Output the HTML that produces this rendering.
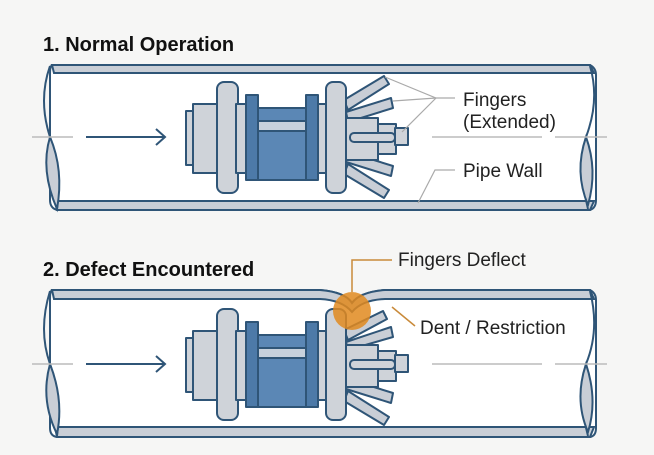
<!DOCTYPE html>
<html><head><meta charset="utf-8"><style>
html,body{margin:0;padding:0;background:#f6f6f5;}
svg{display:block;font-family:"Liberation Sans",sans-serif;}
</style></head><body>
<svg width="654" height="455" viewBox="0 0 654 455" xmlns="http://www.w3.org/2000/svg">
<defs>
<g id="body" stroke="#2f5577" stroke-width="2" stroke-linejoin="round">
  <g fill="#c9ced6">
    <polygon points="346,162 391,176 393,166 348,152"/>
    <polygon points="344,174 384,198 389,190 348,164"/>
  </g>
  <rect x="346" y="118" width="32" height="42" fill="#cfd3d9"/>
  <rect x="378" y="124" width="18" height="30" fill="#cfd3d9"/>
  <rect x="350" y="133" width="45" height="9" rx="4" fill="#cfd3d9"/>
  <rect x="395" y="128" width="13" height="17" fill="#cfd3d9"/>
  <rect x="186" y="111" width="10" height="54" fill="#cfd3d9"/>
  <rect x="193" y="104" width="28" height="69" fill="#cfd3d9"/>
  <rect x="217" y="82" width="21" height="111" rx="7" fill="#cfd3d9"/>
  <rect x="236" y="104" width="12" height="69" fill="#cfd3d9"/>
  <rect x="258" y="108" width="48" height="72" fill="#5b87b5"/>
  <rect x="258" y="121" width="48" height="10" fill="#c7d1dc"/>
  <rect x="246" y="95" width="12" height="85" fill="#4d7aa8"/>
  <rect x="306" y="95" width="12" height="85" fill="#4d7aa8"/>
  <rect x="318" y="104" width="10" height="69" fill="#cfd3d9"/>
  <rect x="326" y="82" width="20" height="111" rx="7" fill="#cfd3d9"/>
</g>
</defs>

<text x="43" y="51" font-size="20" font-weight="bold" fill="#111">1. Normal Operation</text>
<text x="43" y="276" font-size="20" font-weight="bold" fill="#111">2. Defect Encountered</text>

<!-- Pipe 1 -->
<g stroke="#2f5577" stroke-width="2">
  <path d="M52,65 L590,65 Q596,68 596,75 L596,200 Q596,208 590,210 L57,210 Q50,208 50,200 L50,75 Q50,66 52,65Z" fill="#fff"/>
  <path d="M52,65 L590,65 L594,73 L54,73Z" fill="#c9ced6"/>
  <path d="M55,201 L594,201 L590,210 L57,210Z" fill="#c9ced6"/>
  <path d="M50,66 Q38,100 50,137 Q62,170 57,209" fill="none"/>
  <path d="M50,137 Q40,170 57,209 Q64,170 50,137Z" fill="#c9ced6"/>
  <path d="M590,66 Q600,100 586,137 Q578,170 588,209" fill="none"/>
  <path d="M586,137 Q574,172 588,205 Q598,170 586,137Z" fill="#c9ced6"/>
</g>
<line x1="32" y1="137" x2="73" y2="137" stroke="#bbb" stroke-width="1.5"/>
<line x1="432" y1="137" x2="542" y2="137" stroke="#bbb" stroke-width="1.5"/>
<line x1="555" y1="137" x2="607" y2="137" stroke="#bbb" stroke-width="1.5"/>
<g stroke="#2f5577" stroke-width="2" fill="none">
  <line x1="86" y1="137" x2="165" y2="137"/>
  <polyline points="156,129 165,137 156,145"/>
</g>
<g stroke="#2f5577" stroke-width="2" stroke-linejoin="round" fill="#c9ced6">
  <polygon points="344,100 384,76 389,84 348,110"/>
  <polygon points="346,112 391,98 393,108 348,122"/>
</g>
<use href="#body"/>
<g stroke="#aaa" stroke-width="1.2" fill="none">
  <polyline points="385,77 436,98 455,98"/>
  <line x1="393" y1="101" x2="436" y2="98"/>
  <line x1="402" y1="132" x2="436" y2="98"/>
  <polyline points="418,203 435,170 455,170"/>
</g>
<text x="463" y="106" font-size="19" fill="#222">Fingers</text>
<text x="463" y="128" font-size="19" fill="#222">(Extended)</text>
<text x="463" y="177" font-size="19" fill="#222">Pipe Wall</text>

<!-- Pipe 2 -->
<g stroke="#2f5577" stroke-width="2">
  <path d="M52,290 L320,290 Q345,292 352,303 Q360,292 385,290 L590,290 Q596,293 596,300 L596,428 Q596,436 590,437 L57,437 Q50,436 50,428 L50,300 Q50,291 52,290Z" fill="#fff"/>
  <path d="M52,290 L320,290 Q345,292 352,303 Q360,292 385,290 L590,290 L594,299 L385,299 Q362,300 352,312 Q342,300 320,299 L54,299Z" fill="#c9ced6"/>
  <path d="M55,427 L594,427 L590,437 L57,437Z" fill="#c9ced6"/>
  <path d="M50,291 Q38,330 50,364 Q62,400 57,436" fill="none"/>
  <path d="M50,364 Q40,400 57,434 Q64,400 50,364Z" fill="#c9ced6"/>
  <path d="M590,291 Q600,330 586,364 Q578,400 588,436" fill="none"/>
  <path d="M586,364 Q574,400 588,432 Q598,400 586,364Z" fill="#c9ced6"/>
</g>
<line x1="32" y1="364" x2="73" y2="364" stroke="#bbb" stroke-width="1.5"/>
<line x1="432" y1="364" x2="542" y2="364" stroke="#bbb" stroke-width="1.5"/>
<line x1="555" y1="364" x2="607" y2="364" stroke="#bbb" stroke-width="1.5"/>
<g stroke="#2f5577" stroke-width="2" fill="none">
  <line x1="86" y1="364" x2="165" y2="364"/>
  <polyline points="156,356 165,364 156,372"/>
</g>
<g stroke="#2f5577" stroke-width="2" stroke-linejoin="round" fill="#c9ced6">
  <polygon points="344,330 383,311 387,319 348,340"/>
  <polygon points="346,342 391,327 393,337 348,350"/>
</g>
<g transform="translate(0,227)">
  <use href="#body"/>
</g>
<circle cx="352" cy="311" r="19" fill="#e08a1e" fill-opacity="0.85"/>
<g stroke="#c98a3a" stroke-width="1.5" fill="none">
  <polyline points="352,292 352,260 392,260"/>
  <line x1="392" y1="307" x2="415" y2="326"/>
</g>
<text x="398" y="266" font-size="19" fill="#222">Fingers Deflect</text>
<text x="420" y="334" font-size="19" fill="#222">Dent / Restriction</text>
</svg>
</body></html>
